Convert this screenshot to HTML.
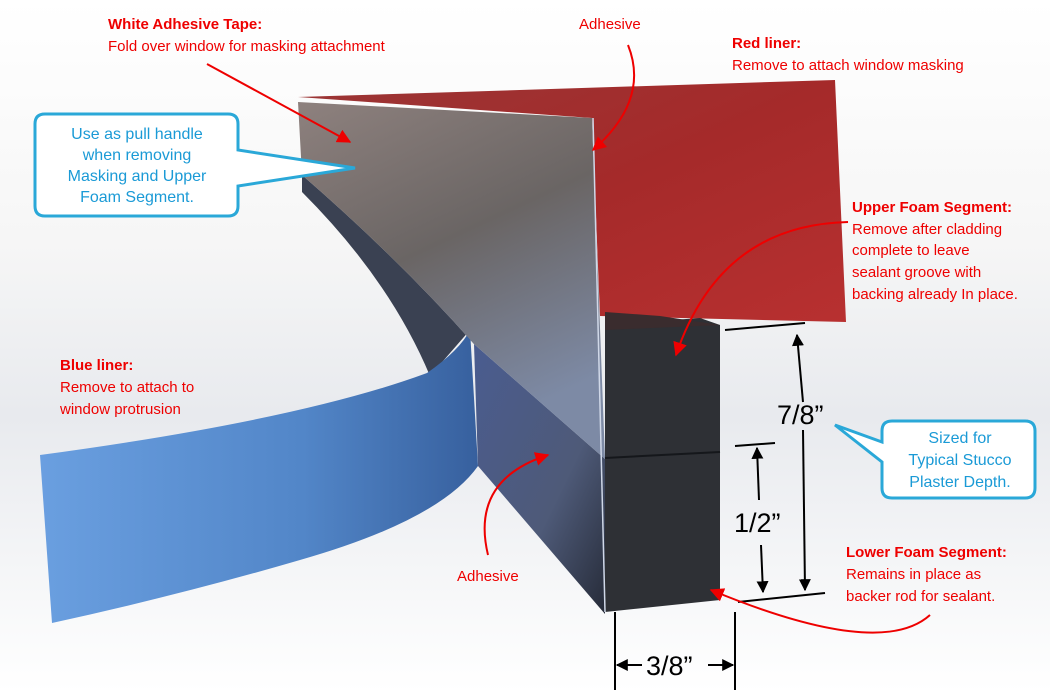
<!DOCTYPE html>
<html><head><meta charset="utf-8"><style>
html,body{margin:0;padding:0;background:#fff;}
svg{display:block;font-family:"Liberation Sans",Arial,sans-serif;}
</style></head><body>
<svg width="1050" height="692" viewBox="0 0 1050 692" xmlns="http://www.w3.org/2000/svg">
<defs>
<linearGradient id="bg" x1="0" y1="0" x2="0" y2="1"><stop offset="0" stop-color="#fff"/><stop offset="0.35" stop-color="#f6f6f6"/><stop offset="0.6" stop-color="#e8eaee"/><stop offset="1" stop-color="#fff"/></linearGradient>
<linearGradient id="red" x1="0" y1="0" x2="1" y2="1"><stop offset="0" stop-color="#9a3535"/><stop offset="0.5" stop-color="#a52a2a"/><stop offset="1" stop-color="#b83030"/></linearGradient>
<linearGradient id="grey" x1="0" y1="0" x2="0.4" y2="1"><stop offset="0" stop-color="#8e817e"/><stop offset="0.5" stop-color="#6a6564"/><stop offset="1" stop-color="#7d8aa5"/></linearGradient>
<linearGradient id="blue" x1="0" y1="0" x2="1" y2="0"><stop offset="0" stop-color="#6a9fe0"/><stop offset="0.6" stop-color="#5286c8"/><stop offset="1" stop-color="#37609e"/></linearGradient>
<linearGradient id="side" x1="0" y1="0" x2="1" y2="1"><stop offset="0" stop-color="#4a5c90"/><stop offset="0.6" stop-color="#4e5a78"/><stop offset="1" stop-color="#262b38"/></linearGradient>
<marker id="ar" viewBox="0 0 10 10" refX="9" refY="5" markerWidth="7" markerHeight="7" orient="auto-start-reverse"><path d="M0,0 L10,5 L0,10 z" fill="#e00"/></marker>
<marker id="ab" viewBox="0 0 10 10" refX="9" refY="5" markerWidth="6" markerHeight="6" orient="auto-start-reverse"><path d="M0,0 L10,5 L0,10 z" fill="#000"/></marker>
</defs>
<rect width="1050" height="692" fill="url(#bg)"/>
<!-- red liner -->
<path d="M298,97 L835,80 L846,322 L600,316 L592,118 Z" fill="url(#red)"/>
<!-- dark foam strip behind -->
<path d="M302,175 Q400,260 474,344 L470,330 L430,376 Q390,280 302,192 Z" fill="#3a4152"/>
<!-- blue liner -->
<path d="M40,455 Q300,420 427,373 Q460,350 470,330 L478,466 Q440,520 300,560 Q180,595 52,623 Z" fill="url(#blue)"/>
<!-- lower blue-grey face -->
<path d="M474,344 L605,459 L605,614 L478,466 Z" fill="url(#side)"/>
<!-- white tape grey -->
<path d="M298,102 L592,118 L605,459 L474,344 Q400,260 302,175 Z" fill="url(#grey)"/>
<!-- foam front block -->
<path d="M605,325 L700,318 L720,325 L720,600 L605,612 Z" fill="#2e3035"/>
<path d="M605,312 L660,316 L720,325 L605,330 Z" fill="#3a2c2e"/>
<line x1="605" y1="458" x2="720" y2="452" stroke="#15171b" stroke-width="2"/>
<line x1="593" y1="118" x2="605" y2="612" stroke="#d0d8e8" stroke-width="1.5"/>
<!-- dimension lines -->
<g stroke="#000" stroke-width="2" fill="none">
<line x1="725" y1="330" x2="805" y2="323"/>
<line x1="735" y1="446" x2="775" y2="443"/>
<line x1="738" y1="602" x2="825" y2="593"/>
<line x1="797" y1="335" x2="803" y2="402" marker-start="url(#ab)"/>
<line x1="803" y1="430" x2="805" y2="590" marker-end="url(#ab)"/>
<line x1="757" y1="448" x2="759" y2="500" marker-start="url(#ab)"/>
<line x1="761" y1="545" x2="763" y2="592" marker-end="url(#ab)"/>
<line x1="615" y1="612" x2="615" y2="690"/>
<line x1="735" y1="612" x2="735" y2="690"/>
<line x1="617" y1="665" x2="642" y2="665" marker-start="url(#ab)"/>
<line x1="708" y1="665" x2="733" y2="665" marker-end="url(#ab)"/>
</g>
<text x="777" y="424" font-size="27" fill="#000">7/8”</text>
<text x="734" y="532" font-size="27" fill="#000">1/2”</text>
<text x="646" y="675" font-size="27" fill="#000">3/8”</text>
<!-- red annotation arrows -->
<g stroke="#e00" stroke-width="2" fill="none">
<line x1="207" y1="64" x2="350" y2="142" marker-end="url(#ar)"/>
<path d="M628,45 Q650,100 593,150" marker-end="url(#ar)"/>
<path d="M848,222 Q720,225 676,355" marker-end="url(#ar)"/>
<path d="M488,555 Q470,480 548,455" marker-end="url(#ar)"/>
<path d="M930,615 Q880,660 711,590" marker-end="url(#ar)"/>
</g>
<!-- labels -->
<g font-size="15">
<text x="108" y="29" fill="#e00" font-weight="bold">White Adhesive Tape:</text>
<text x="108" y="51" fill="#e00">Fold over window for masking attachment</text>
<text x="579" y="29" fill="#e00">Adhesive</text>
<text x="732" y="48" fill="#e00" font-weight="bold">Red liner:</text>
<text x="732" y="70" fill="#e00">Remove to attach window masking</text>
<text x="852" y="212" fill="#e00" font-weight="bold">Upper Foam Segment:</text>
<text x="852" y="234" fill="#e00">Remove after cladding</text>
<text x="852" y="255" fill="#e00">complete to leave</text>
<text x="852" y="277" fill="#e00">sealant groove with</text>
<text x="852" y="299" fill="#e00">backing already In place.</text>
<text x="60" y="370" fill="#e00" font-weight="bold">Blue liner:</text>
<text x="60" y="392" fill="#e00">Remove to attach to</text>
<text x="60" y="414" fill="#e00">window protrusion</text>
<text x="457" y="581" fill="#e00">Adhesive</text>
<text x="846" y="557" fill="#e00" font-weight="bold">Lower Foam Segment:</text>
<text x="846" y="579" fill="#e00">Remains in place as</text>
<text x="846" y="601" fill="#e00">backer rod for sealant.</text>
</g>
<!-- callouts -->
<path d="M45,114 Q35,114 35,124 L35,206 Q35,216 45,216 L228,216 Q238,216 238,206 L238,186 L355,168 L238,150 L238,124 Q238,114 228,114 Z" fill="#fff" stroke="#2aa8d8" stroke-width="3"/>
<g font-size="16" fill="#1a9ad6" text-anchor="middle">
<text x="137" y="139">Use as pull handle</text>
<text x="137" y="160">when removing</text>
<text x="137" y="181">Masking and Upper</text>
<text x="137" y="202">Foam Segment.</text>
</g>
<path d="M892,421 Q882,421 882,431 L882,442 L835,425 L882,462 L882,488 Q882,498 892,498 L1025,498 Q1035,498 1035,488 L1035,431 Q1035,421 1025,421 Z" fill="#fff" stroke="#2aa8d8" stroke-width="3"/>
<g font-size="16" fill="#1a9ad6" text-anchor="middle">
<text x="960" y="443">Sized for</text>
<text x="960" y="465">Typical Stucco</text>
<text x="960" y="487">Plaster Depth.</text>
</g>
</svg>
</body></html>
